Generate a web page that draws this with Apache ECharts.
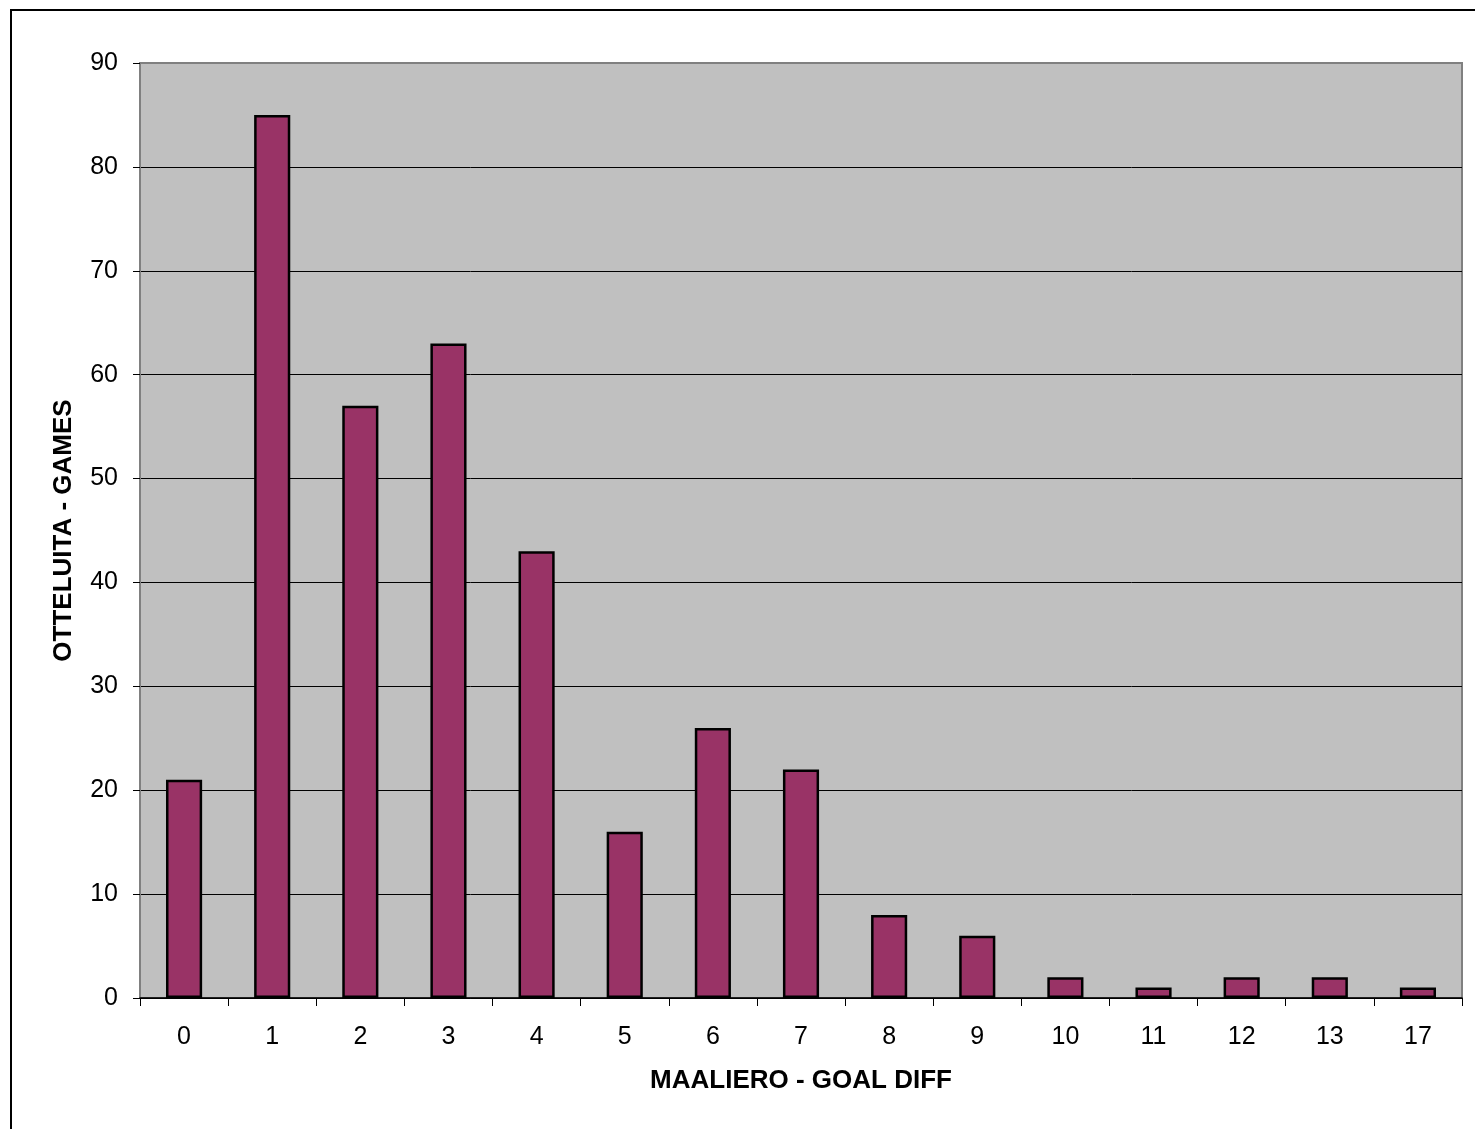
<!DOCTYPE html>
<html><head><meta charset="utf-8">
<script src="https://cdn.jsdelivr.net/npm/echarts@6/dist/echarts.min.js"></script>
<style>html,body{margin:0;padding:0;background:#fff}#c{width:1475px;height:1129px}</style>
</head><body><div id="c"></div>
<script>
const categories = ['0','1','2','3','4','5','6','7','8','9','10','11','12','13','17'];
const games = [21, 85, 57, 63, 43, 16, 26, 22, 8, 6, 2, 1, 2, 2, 1];
const yTicks = [0, 10, 20, 30, 40, 50, 60, 70, 80, 90];
const xName = 'MAALIERO - GOAL DIFF';
const yName = 'OTTELUITA - GAMES';

const chart = echarts.init(document.getElementById('c'), null, {renderer: 'canvas'});
const font = 'Liberation Sans, Arial, sans-serif';
chart.setOption({
  animation: false,
  backgroundColor: '#fff',
  graphic: [{
    type: 'rect', shape: {x: 11, y: 10, width: 1480, height: 1140},
    style: {fill: null, stroke: '#000', lineWidth: 2}, silent: true, z: 100
  }],
  grid: {left: 140, top: 63, width: 1322, height: 935, show: true,
         backgroundColor: '#C0C0C0', borderColor: '#808080', borderWidth: 2},
  xAxis: {
    type: 'category', data: categories,
    name: xName, nameLocation: 'middle', nameGap: 70,
    nameTextStyle: {fontFamily: font, fontSize: 26, fontWeight: 'bold', color: '#000'},
    axisLine: {show: true, lineStyle: {color: '#000', width: 1.5}},
    axisTick: {show: true, length: 8, alignWithLabel: false, lineStyle: {color: '#000'}},
    axisLabel: {fontFamily: font, fontSize: 25, color: '#000', margin: 27}
  },
  yAxis: {
    type: 'value', min: 0, max: 90, interval: 10,
    name: yName, nameLocation: 'middle', nameGap: 63, nameRotate: 90,
    nameTextStyle: {fontFamily: font, fontSize: 26, fontWeight: 'bold', color: '#000'},
    axisLine: {show: true, lineStyle: {color: '#808080', width: 2}},
    axisTick: {show: true, length: 7, lineStyle: {color: '#000'}},
    axisLabel: {fontFamily: font, fontSize: 25, color: '#000', margin: 22,
                formatter: v => yTicks.includes(v) ? String(v) : ''},
    splitLine: {show: true, lineStyle: {color: ['#000','#000','#000','#000','#000','#000','#000','#000','#000','#808080'], width: 1}}
  },
  series: [{
    type: 'bar', data: games, barWidth: '41%',
    itemStyle: {color: '#993366', borderColor: '#000', borderWidth: 2.5}
  }]
});
</script></body></html>
